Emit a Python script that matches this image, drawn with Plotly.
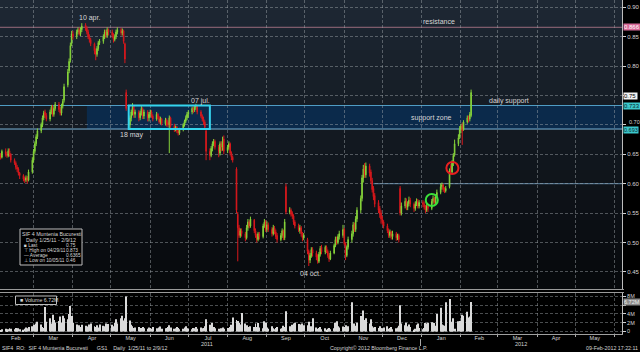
import plotly.graph_objects as go
import pandas as pd

W, H = 640, 352

# ---------------- data ----------------
start_day = "2011-02-02"
end_day = "2012-02-09"

open_ = [
    # Feb 2011
    0.652,0.648,0.645,0.655,0.650,0.648,0.656,0.650,0.640,0.635,0.628,0.625,0.618,0.614,0.608,0.606,0.610,0.606,0.620,
    # Mar
    0.640,0.655,0.668,0.680,0.690,0.700,0.712,0.722,0.716,0.710,0.722,0.730,0.718,0.728,0.735,0.726,0.720,0.732,0.742,0.768,0.792,0.810,0.838,
    # Apr
    0.855,0.850,0.858,0.862,0.855,0.862,0.870,0.865,0.858,0.850,0.845,0.838,0.826,0.820,0.830,0.840,0.842,0.850,0.858,0.852,0.862,
    # May
    0.858,0.852,0.845,0.850,0.858,0.862,0.856,0.860,0.838,0.755,0.700,0.712,0.722,0.732,0.718,0.722,0.712,0.720,0.728,0.715,0.722,0.712,
    # Jun
    0.718,0.722,0.715,0.710,0.718,0.712,0.705,0.710,0.702,0.708,0.704,0.700,0.712,0.698,0.692,0.696,0.690,0.686,0.692,0.700,0.706,0.712,
    # Jul
    0.718,0.722,0.728,0.725,0.730,0.732,0.722,0.715,0.710,0.705,0.690,0.655,0.648,0.660,0.668,0.672,0.662,0.652,0.668,0.662,0.676,
    # Aug
    0.656,0.662,0.668,0.652,0.645,0.625,0.548,0.525,0.512,0.520,0.515,0.508,0.525,0.535,0.528,0.538,0.520,0.512,0.505,0.515,0.510,0.528,0.535,
    # Sep
    0.522,0.530,0.522,0.515,0.525,0.518,0.512,0.505,0.512,0.520,0.508,0.595,0.552,0.555,0.550,0.545,0.535,0.528,0.520,0.525,0.515,0.508,
    # Oct
    0.505,0.485,0.470,0.478,0.488,0.482,0.478,0.468,0.480,0.492,0.484,0.492,0.485,0.478,0.472,0.482,0.495,0.505,0.500,0.510,0.512,
    # Nov
    0.522,0.498,0.478,0.492,0.505,0.515,0.530,0.522,0.540,0.555,0.575,0.610,0.628,0.615,0.630,0.620,0.605,0.592,0.580,0.568,0.558,0.550,
    # Dec
    0.540,0.535,0.528,0.520,0.512,0.518,0.510,0.515,0.508,0.512,0.592,0.550,0.562,0.570,0.560,0.566,0.572,0.565,0.558,0.565,0.570,0.562,
    # Jan 2012
    0.568,0.565,0.560,0.555,0.562,0.558,0.570,0.575,0.568,0.578,0.585,0.595,0.598,0.590,0.588,0.595,0.630,0.620,0.635,0.650,0.668,0.680,
    # Feb 2012
    0.692,0.700,0.692,0.705,0.712,0.710,0.716,
]

high_ = [
    0.656,0.652,0.658,0.660,0.654,0.660,0.660,0.652,0.643,0.638,0.632,0.628,0.620,0.616,0.612,0.614,0.613,0.624,0.645,
    0.659,0.672,0.684,0.694,0.704,0.716,0.724,0.726,0.720,0.726,0.734,0.734,0.732,0.739,0.739,0.730,0.736,0.744,0.770,0.795,0.813,0.840,0.860,
    0.860,0.862,0.866,0.865,0.866,0.873,0.873,0.868,0.862,0.854,0.848,0.840,0.830,0.834,0.843,0.846,0.854,0.862,0.862,0.866,0.864,
    0.862,0.856,0.854,0.862,0.866,0.865,0.864,0.862,0.840,0.760,0.716,0.726,0.737,0.734,0.726,0.725,0.724,0.732,0.730,0.726,0.725,0.722,
    0.726,0.725,0.718,0.722,0.720,0.715,0.714,0.712,0.712,0.711,0.708,0.716,0.714,0.702,0.699,0.698,0.693,0.695,0.703,0.709,0.716,0.722,
    0.725,0.731,0.732,0.734,0.736,0.734,0.725,0.718,0.714,0.708,0.692,0.660,0.664,0.672,0.676,0.675,0.666,0.672,0.672,0.680,0.682,
    0.666,0.672,0.670,0.655,0.648,0.628,0.552,0.530,0.524,0.524,0.518,0.530,0.540,0.538,0.544,0.540,0.524,0.515,0.518,0.518,0.532,0.540,0.538,
    0.536,0.534,0.526,0.530,0.528,0.522,0.516,0.516,0.524,0.522,0.540,0.600,0.560,0.558,0.553,0.548,0.538,0.532,0.530,0.528,0.518,0.516,
    0.508,0.488,0.482,0.492,0.492,0.486,0.480,0.484,0.494,0.496,0.495,0.495,0.488,0.482,0.486,0.498,0.510,0.510,0.514,0.520,0.530,
    0.525,0.500,0.495,0.510,0.520,0.535,0.534,0.545,0.560,0.580,0.615,0.632,0.635,0.636,0.634,0.624,0.610,0.596,0.584,0.572,0.562,0.555,
    0.545,0.538,0.532,0.524,0.522,0.520,0.520,0.518,0.515,0.515,0.596,0.568,0.576,0.575,0.570,0.578,0.576,0.568,0.570,0.575,0.574,0.572,
    0.572,0.570,0.564,0.566,0.566,0.574,0.580,0.578,0.582,0.590,0.600,0.602,0.600,0.594,0.596,0.626,0.634,0.640,0.652,0.675,0.684,0.698,
    0.702,0.704,0.708,0.716,0.716,0.722,0.760,
]

low_ = [
    0.645,0.641,0.643,0.646,0.644,0.645,0.646,0.636,0.632,0.624,0.620,0.614,0.608,0.604,0.601,0.603,0.600,0.604,0.617,
    0.636,0.651,0.664,0.676,0.686,0.696,0.708,0.712,0.706,0.706,0.718,0.714,0.714,0.724,0.722,0.716,0.716,0.728,0.738,0.764,0.788,0.806,0.834,
    0.845,0.846,0.854,0.852,0.851,0.858,0.860,0.854,0.846,0.840,0.834,0.820,0.810,0.816,0.826,0.836,0.838,0.846,0.848,0.848,0.852,
    0.848,0.840,0.842,0.846,0.854,0.852,0.852,0.838,0.805,0.724,0.694,0.706,0.716,0.712,0.712,0.706,0.708,0.716,0.710,0.710,0.706,0.706,
    0.714,0.712,0.706,0.707,0.709,0.702,0.701,0.699,0.699,0.697,0.696,0.652,0.695,0.688,0.689,0.686,0.682,0.683,0.689,0.697,0.703,0.708,
    0.712,0.718,0.720,0.722,0.726,0.718,0.712,0.706,0.700,0.692,0.640,0.640,0.645,0.655,0.664,0.658,0.645,0.648,0.655,0.656,0.650,
    0.652,0.658,0.648,0.640,0.636,0.550,0.468,0.508,0.508,0.510,0.502,0.505,0.520,0.524,0.525,0.516,0.508,0.500,0.502,0.505,0.507,0.525,0.518,
    0.518,0.518,0.510,0.512,0.514,0.506,0.500,0.502,0.508,0.504,0.504,0.548,0.548,0.544,0.540,0.530,0.524,0.518,0.515,0.510,0.502,0.504,
    0.480,0.460,0.465,0.474,0.476,0.470,0.464,0.465,0.476,0.480,0.480,0.482,0.474,0.467,0.470,0.480,0.492,0.496,0.497,0.505,0.508,
    0.495,0.470,0.475,0.488,0.500,0.510,0.518,0.518,0.535,0.550,0.570,0.602,0.610,0.610,0.612,0.600,0.585,0.572,0.560,0.550,0.542,0.532,
    0.530,0.524,0.516,0.508,0.508,0.505,0.505,0.503,0.504,0.500,0.546,0.546,0.558,0.555,0.555,0.562,0.560,0.552,0.554,0.562,0.558,0.558,
    0.560,0.556,0.550,0.552,0.552,0.555,0.566,0.564,0.565,0.575,0.582,0.590,0.586,0.584,0.585,0.592,0.615,0.618,0.630,0.646,0.664,0.676,
    0.686,0.666,0.690,0.702,0.704,0.706,0.713,
]

close_ = [
    0.648,0.645,0.655,0.650,0.648,0.656,0.650,0.640,0.635,0.628,0.625,0.618,0.614,0.608,0.606,0.610,0.606,0.620,0.640,
    0.655,0.668,0.680,0.690,0.700,0.712,0.720,0.716,0.710,0.722,0.730,0.718,0.728,0.735,0.726,0.720,0.732,0.740,0.765,0.790,0.808,0.835,0.855,
    0.850,0.858,0.862,0.855,0.862,0.868,0.865,0.858,0.850,0.845,0.838,0.826,0.820,0.830,0.840,0.842,0.850,0.858,0.852,0.862,0.858,
    0.852,0.845,0.850,0.858,0.862,0.856,0.860,0.842,0.812,0.728,0.712,0.722,0.730,0.718,0.722,0.712,0.720,0.728,0.715,0.722,0.712,0.718,
    0.722,0.715,0.710,0.718,0.712,0.705,0.710,0.702,0.708,0.700,0.700,0.712,0.698,0.692,0.696,0.690,0.686,0.692,0.700,0.706,0.712,0.718,
    0.722,0.728,0.725,0.730,0.732,0.722,0.715,0.710,0.705,0.696,0.655,0.648,0.660,0.668,0.672,0.662,0.655,0.668,0.662,0.672,0.655,
    0.662,0.668,0.652,0.645,0.640,0.555,0.525,0.512,0.520,0.515,0.508,0.525,0.535,0.528,0.540,0.520,0.512,0.505,0.515,0.510,0.528,0.535,0.522,
    0.530,0.522,0.515,0.525,0.518,0.510,0.505,0.512,0.520,0.508,0.535,0.552,0.555,0.548,0.545,0.535,0.528,0.522,0.525,0.515,0.508,0.512,
    0.485,0.470,0.478,0.488,0.482,0.475,0.468,0.480,0.490,0.484,0.492,0.485,0.478,0.472,0.482,0.495,0.505,0.500,0.510,0.515,0.522,
    0.498,0.478,0.492,0.505,0.515,0.530,0.522,0.540,0.555,0.575,0.610,0.625,0.615,0.630,0.618,0.605,0.590,0.578,0.565,0.555,0.548,0.540,
    0.535,0.528,0.520,0.512,0.518,0.510,0.515,0.508,0.512,0.505,0.550,0.562,0.570,0.560,0.566,0.572,0.565,0.558,0.565,0.570,0.562,0.568,
    0.565,0.560,0.555,0.562,0.558,0.570,0.575,0.568,0.578,0.585,0.595,0.598,0.590,0.588,0.592,0.622,0.620,0.635,0.648,0.668,0.678,0.692,
    0.698,0.690,0.705,0.712,0.708,0.718,0.755,
]

volume_m = [
    0.4,0.3,0.5,0.6,0.4,0.5,0.7,0.6,0.5,0.8,0.6,0.7,0.5,0.4,0.6,0.9,0.7,1.0,1.2,
    1.5,1.2,1.8,2.2,1.6,1.0,0.8,5.6,2.2,3.0,1.8,3.8,2.6,2.0,2.4,3.4,2.0,3.6,3.0,2.8,4.0,5.8,3.5,
    2.0,1.6,1.2,1.4,1.0,1.5,1.3,0.9,1.1,1.6,1.8,1.2,1.0,1.4,0.9,1.6,1.3,1.2,1.8,1.5,1.7,
    1.5,1.2,2.0,2.8,1.8,3.0,3.6,2.5,3.0,8.0,2.5,1.5,1.2,0.8,0.9,1.0,0.6,0.8,1.0,0.7,0.6,0.9,
    0.8,0.6,1.0,0.7,0.5,0.9,1.1,0.6,0.7,0.8,1.0,1.4,0.9,0.6,0.7,1.0,0.8,0.5,0.6,0.9,1.2,0.7,
    0.6,0.5,0.8,0.7,1.0,0.6,0.9,0.7,0.8,1.2,2.8,1.5,0.8,1.9,1.0,0.7,0.6,0.5,0.7,0.9,0.6,
    0.8,0.6,1.0,1.5,3.2,2.6,2.4,2.0,1.6,4.2,1.8,1.4,1.0,0.8,1.2,1.0,1.8,1.0,1.9,0.9,0.7,2.3,2.0,
    0.9,0.6,1.2,0.7,0.5,0.8,1.0,0.6,0.7,1.3,1.0,4.6,1.2,0.9,1.5,1.8,2.0,1.7,1.6,1.2,1.8,1.4,
    1.4,2.2,1.0,1.2,3.0,0.9,0.6,0.8,1.0,0.5,0.7,0.4,0.6,0.8,0.5,0.7,2.0,2.3,1.2,0.9,1.1,
    1.0,1.4,0.8,1.2,6.7,1.5,1.8,1.3,2.0,3.5,2.2,4.8,2.6,3.0,1.8,2.8,1.2,0.9,1.0,0.8,1.2,0.7,
    0.7,0.9,1.2,0.6,0.8,1.0,0.5,0.7,0.9,1.3,6.0,1.8,1.4,2.0,1.2,1.6,1.0,0.4,0.6,1.5,1.8,0.8,
    0.5,0.8,1.9,1.8,2.0,2.1,2.0,1.9,1.3,4.0,5.4,1.6,1.4,1.3,6.7,7.4,2.2,2.0,3.0,0.6,2.3,2.4,
    2.4,3.8,3.6,4.5,3.2,3.4,6.72,
]

resistance = 0.866
support_top = 0.733
support_bottom = 0.693
daily_level = 0.60
price_ticks = [0.45, 0.50, 0.55, 0.60, 0.65, 0.70, 0.75, 0.80, 0.85, 0.90]
price_tick_text = ["0.45", "0.50", "0.55", "0.60", "0.65", "", "", "0.80", "0.85", "0.90"]
vol_ticks = [0, 2, 4, 6, 8]
vol_tick_text = ["0", "2M", "4M", "", "8M"]

dates = pd.bdate_range(start_day, end_day)
n = len(dates)
assert n == len(open_) == len(high_) == len(low_) == len(close_) == len(volume_m), (
    n, len(open_), len(high_), len(low_), len(close_), len(volume_m))

# ---------------- layout helpers ----------------
X_START = "2011-02-02 12:00"
X_END = "2012-06-07"
PLOT_R = 622
PRICE_BOTTOM = 289
VOL_TOP, VOL_BOTTOM = 293, 334
Y_TOP = 0.90 + 7.3 / 588
Y_BOT = 0.90 - (PRICE_BOTTOM - 7.3) / 588

def fx(p):
    return p / W

def fy(p):
    return 1 - p / H

GREEN = "#86d43a"
RED = "#d8181c"
GRID = "rgba(165,170,175,0.45)"
TXT = "#d6d6d6"
FONT = "Liberation Sans, Arial, sans-serif"

fig = go.Figure()
fig.add_trace(go.Candlestick(
    x=dates, open=open_, high=high_, low=low_, close=close_,
    increasing=dict(line=dict(color=GREEN, width=1), fillcolor=GREEN),
    decreasing=dict(line=dict(color=RED, width=1), fillcolor=RED),
    whiskerwidth=0, showlegend=False, hoverinfo="skip", xaxis="x", yaxis="y"))
fig.add_trace(go.Bar(
    x=dates, y=volume_m, marker=dict(color="#dadada", line=dict(width=0)),
    showlegend=False, hoverinfo="skip", xaxis="x2", yaxis="y2"))

shapes = []
# background gradient of the price panel
bands = 29
for i in range(bands):
    t = i / (bands - 1)
    r = int(30 + (7 - 30) * t)
    g = int(40 + (9 - 40) * t)
    b = int(52 + (12 - 52) * t)
    shapes.append(dict(type="rect", xref="paper", yref="paper", layer="below",
                       x0=0, x1=fx(PLOT_R), y0=fy(min(PRICE_BOTTOM, (i + 1) * 10)), y1=fy(i * 10),
                       fillcolor=f"rgb({r},{g},{b})", line=dict(width=0)))
# support zone fill
shapes.append(dict(type="rect", xref="x", yref="y", layer="below",
                   x0="2011-04-12", x1=X_END, y0=support_bottom, y1=support_top,
                   fillcolor="#0b2a4b", line=dict(width=0)))
# horizontal levels
shapes.append(dict(type="line", xref="x", yref="y", layer="below", x0=X_START, x1=X_END,
                   y0=resistance, y1=resistance, line=dict(color="#9a6a7c", width=1)))
shapes.append(dict(type="line", xref="x", yref="y", layer="below", x0=X_START, x1=X_END,
                   y0=support_top, y1=support_top, line=dict(color="#4f9cc4", width=1)))
shapes.append(dict(type="line", xref="x", yref="y", layer="below", x0=X_START, x1=X_END,
                   y0=support_bottom, y1=support_bottom, line=dict(color="#7ab4d8", width=1)))
shapes.append(dict(type="line", xref="x", yref="y", layer="below", x0="2011-11-24", x1=X_END,
                   y0=daily_level, y1=daily_level, line=dict(color="#5d86a6", width=1)))
# cyan consolidation box
shapes.append(dict(type="rect", xref="x", yref="y", layer="above",
                   x0="2011-05-15", x1="2011-07-18", y0=support_bottom, y1=support_top,
                   line=dict(color="#35d4ee", width=2)))
# circles
shapes.append(dict(type="circle", xref="x", yref="y", layer="above",
                   x0="2012-01-04 06:00", x1="2012-01-13 18:00", y0=0.5620, y1=0.5825,
                   line=dict(color="#3be03b", width=2)))
shapes.append(dict(type="circle", xref="x", yref="y", layer="above",
                   x0="2012-01-20 12:00", x1="2012-01-30", y0=0.6165, y1=0.6370,
                   line=dict(color="#e82020", width=2)))
# panel separators
for yy in (289.5, 292.5):
    shapes.append(dict(type="line", xref="paper", yref="paper", x0=0, x1=fx(624),
                       y0=fy(yy), y1=fy(yy), line=dict(color="#9a9a9a", width=1)))
# year separator tick
shapes.append(dict(type="line", xref="paper", yref="paper", x0=fx(420.5), x1=fx(420.5),
                   y0=fy(339), y1=fy(346), line=dict(color="#aaaaaa", width=1)))
# info boxes
shapes.append(dict(type="rect", xref="paper", yref="paper", x0=fx(20), x1=fx(82),
                   y0=fy(265), y1=fy(229), fillcolor="#000000", line=dict(color="#bdbdbd", width=1)))
shapes.append(dict(type="rect", xref="paper", yref="paper", x0=fx(15.5), x1=fx(56.5),
                   y0=fy(304.5), y1=fy(296), fillcolor="#000000", line=dict(color="#bdbdbd", width=1)))

ann = []

def add_text(text, x, y, xref="paper", yref="paper", size=6.5, color=TXT, xanchor="center",
             yanchor="middle", bg=None, yshift=0):
    d = dict(text=text, x=x, y=y, xref=xref, yref=yref, showarrow=False, yshift=yshift,
             font=dict(size=size, color=color, family=FONT), xanchor=xanchor, yanchor=yanchor)
    if bg:
        d.update(bgcolor=bg, borderpad=0)
    ann.append(d)

# chart notes
add_text("10 apr.", "2011-04-14", 0.882, "x", "y", size=7)
add_text("07 jul.", "2011-07-11", 0.741, "x", "y", size=7)
add_text("18 may", "2011-05-17", 0.683, "x", "y", size=7)
add_text("04 oct.", "2011-10-05", 0.448, "x", "y", size=7)
add_text("resistance", "2012-01-15", 0.876, "x", "y", size=7)
add_text("daily support", "2012-03-10", 0.740, "x", "y", size=7)
add_text("support zone", "2012-01-09", 0.711, "x", "y", size=7)

# price tick label squeezed above the support tag
add_text("0.70", fx(626.5), 0.70, "paper", "y", size=5.5, xanchor="left", yshift=3)

# right-side value tags
add_text("0.866", fx(623), resistance, "paper", "y", size=6, color="#ffffff", xanchor="left", bg="#d86a98")
add_text("0.75 ", fx(623), 0.749, "paper", "y", size=6, color="#000000", xanchor="left", bg="#f2f2f2")
add_text("0.733", fx(623), support_top, "paper", "y", size=6, color="#0a2a30", xanchor="left", bg="#3cc8cc")
add_text("0.693", fx(623), support_bottom, "paper", "y", size=5.5, color="#0a2a30", xanchor="left",
         bg="#3cc8cc", yshift=-1)
add_text("6.72M", fx(623), 6.72, "paper", "y2", size=5.5, color="#eeeeee", xanchor="left", bg="#8c8c8c")

# info box text
add_text("SIF 4 Muntenia Bucuresti", fx(51), fy(234), size=5.3)
add_text("Daily 1/25/11 - 2/9/12", fx(51), fy(239.5), size=5.3)
rows = [("■ Last", "0.75"), ("⊤ High on 04/29/11", "0.873"),
        ("— Average", "0.6365"), ("⊥ Low on 10/05/11", "0.46")]
for k, (lab, val) in enumerate(rows):
    yy = 245 + k * 5.3
    add_text(lab, fx(21.5), fy(yy), size=4.8, xanchor="left")
    add_text(val, fx(64), fy(yy), size=4.8, xanchor="left")
add_text("■ Volume 6.72M", fx(18), fy(300.3), size=5.3, xanchor="left")

# axis year labels and footer
add_text("2011", fx(207), fy(344), size=5.5)
add_text("2012", fx(521), fy(344), size=5.5)
add_text("SIF4  RO:  SIF 4 Muntenia Bucuresti      GS1    Daily  1/25/11 to 2/9/12", fx(0), fy(348),
         size=5.3, xanchor="left")
add_text("Copyright© 2012 Bloomberg Finance L.P.", fx(328), fy(348), size=5.3, xanchor="left")
add_text("09-Feb-2012 17:22:11", fx(640), fy(348), size=5.3, xanchor="right")

fig.update_layout(
    width=W, height=H, margin=dict(l=0, r=0, t=0, b=0, pad=0),
    paper_bgcolor="#000000", plot_bgcolor="#000000",
    font=dict(family=FONT, color=TXT, size=6),
    bargap=0.25, showlegend=False,
    shapes=shapes, annotations=ann,
    xaxis=dict(domain=[0, fx(PLOT_R)], anchor="y", type="date", range=[X_START, X_END],
               rangeslider=dict(visible=False), showticklabels=False, ticks="",
               showgrid=True, gridcolor=GRID, griddash="3px,2px", gridwidth=1,
               dtick="M1", tick0="2011-02-01", zeroline=False, showline=False, automargin=False),
    yaxis=dict(domain=[fy(PRICE_BOTTOM), 1], anchor="x", side="right", range=[Y_BOT, Y_TOP],
               tickvals=price_ticks, ticktext=price_tick_text, tickfont=dict(size=6, color=TXT),
               ticks="outside", ticklen=3, tickcolor="#cfcfcf",
               showline=True, linecolor="#bdbdbd", linewidth=1,
               showgrid=True, gridcolor=GRID, griddash="3px,2px", gridwidth=1,
               zeroline=False, automargin=False),
    xaxis2=dict(domain=[0, fx(PLOT_R)], anchor="y2", type="date", matches="x",
                dtick="M1", tick0="2011-02-01", tickformat="%b", ticklabelmode="period",
                tickfont=dict(size=5.5, color=TXT), ticks="outside", ticklen=2, tickcolor="#aaaaaa",
                ticklabelstandoff=-4,
                showgrid=True, gridcolor=GRID, griddash="3px,2px", gridwidth=1,
                showline=True, linecolor="#a0a0a0", linewidth=1, zeroline=False, automargin=False),
    yaxis2=dict(domain=[fy(VOL_BOTTOM), fy(VOL_TOP)], anchor="x2", side="right", range=[-0.6, 8.8],
                tickvals=vol_ticks, ticktext=vol_tick_text, tickfont=dict(size=5.5, color=TXT),
                ticks="outside", ticklen=3, tickcolor="#cfcfcf",
                showline=True, linecolor="#bdbdbd", linewidth=1,
                showgrid=True, gridcolor=GRID, griddash="3px,2px", gridwidth=1,
                zeroline=False, automargin=False),
)

fig.write_html("out.html")
